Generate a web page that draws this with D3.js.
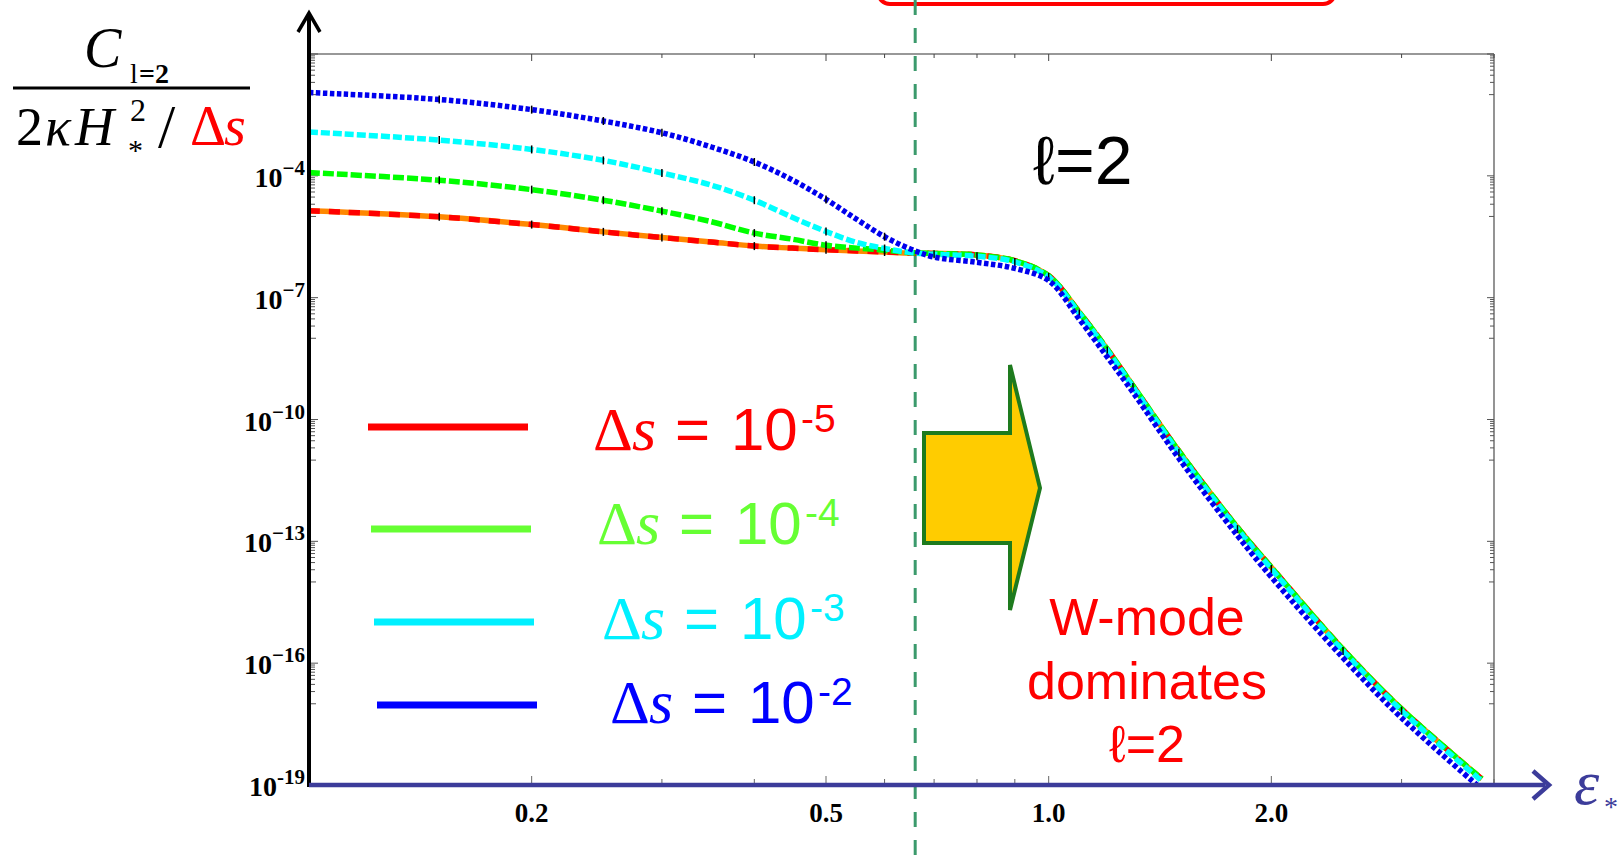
<!DOCTYPE html>
<html>
<head>
<meta charset="utf-8">
<script src="https://cdn.jsdelivr.net/npm/d3@7"></script>
<style>
    html, body { margin: 0; padding: 0; background: #fff; overflow: hidden; }
    svg { display: block; }
</style>
</head>
<body>
<svg id="chart" width="1623" height="862"></svg>
<script>
// epsilon_* sample points (x axis, log scale)
const epsVals = [0.1, 0.15, 0.2, 0.25, 0.3, 0.35, 0.4, 0.45, 0.5, 0.55, 0.6, 0.65, 0.7,
                 0.8, 0.9, 1.0, 1.1, 1.2, 1.3, 1.5, 1.8, 2.0, 2.5, 3.0, 3.85];

// log10 of C_l=2 / (2 kappa H*^2 / ds)
const logDs5 = [-4.86, -5.01, -5.20, -5.38, -5.52, -5.63, -5.73, -5.78, -5.82, -5.85, -5.875, -5.90, -5.91,
                -5.95, -6.09, -6.46, -7.36, -8.27, -9.17, -10.78, -12.66, -13.64, -15.66, -17.13, -18.85];
const logDs4 = [-3.92, -4.11, -4.34, -4.60, -4.87, -5.13, -5.41, -5.56, -5.71, -5.78, -5.83, -5.89, -5.91,
                -5.95, -6.09, -6.46, -7.36, -8.27, -9.17, -10.78, -12.66, -13.64, -15.66, -17.13, -18.85];
const logDs3 = [-2.92, -3.12, -3.35, -3.62, -3.93, -4.23, -4.60, -5.02, -5.37, -5.64, -5.79, -5.89, -5.93,
                -5.98, -6.12, -6.49, -7.39, -8.30, -9.20, -10.82, -12.70, -13.68, -15.70, -17.17, -18.90];
const logDs2 = [-1.95, -2.12, -2.37, -2.65, -2.94, -3.29, -3.66, -4.10, -4.58, -5.07, -5.50, -5.80, -6.00,
                -6.13, -6.28, -6.58, -7.53, -8.46, -9.33, -10.96, -12.86, -13.88, -15.87, -17.35, -19.10];

// legend exponents (Δs = 10^k)
const legendExps = ['-5', '-4', '-3', '-2'];

// axis ticks
const xMajorTicks = [0.2, 0.5, 1.0, 2.0];
const xMinorTicks = [0.3, 0.4, 0.6, 0.7, 0.8, 0.9, 3, 4];
const yMajorExps = [-1, -4, -7, -10, -13, -16, -19];
const yLabelExps = ['−4', '−7', '−10', '−13', '−16', '-19'];

// small black marks sitting on the curves
const meshEps = [0.15, 0.2, 0.25, 0.3, 0.4, 0.5, 0.6, 0.7, 0.8, 0.9, 1.0, 1.1, 1.2, 1.3, 1.5, 1.8, 2.0, 2.5, 3.0];

// position of the vertical dashed line
const crossEps = 0.66;

// Configurazione
const plot = { left: 309, right: 1494, top: 54, bottom: 785 };
const serif = "'Liberation Serif', 'Times New Roman', serif";
const sans = "'Liberation Sans', Arial, 'DejaVu Sans', sans-serif";
const navy = '#3c3c9a';

const styles = [
    { vals: logDs5, color: '#ff0000', under: '#ff8800', dash: '11,9', width: 5.5, legend: '#ff0000' },
    { vals: logDs4, color: '#00ff00', dash: '11,3', width: 5.5, legend: '#66ff33' },
    { vals: logDs3, color: '#00ffff', dash: '9,3', width: 5.5, legend: '#00f0ff' },
    { vals: logDs2, color: '#0000ee', dash: '4.5,2.5', width: 5.5, legend: '#0000ff' }
];

const svg = d3.select('#chart');

const x = d3.scaleLog().domain([0.1, 4]).range([plot.left, plot.right]);
const y = d3.scaleLog().domain([1e-19, 1e-1]).range([plot.bottom, plot.top]);

// red box cut by the top edge
svg.append('rect')
    .attr('x', 878).attr('y', -30)
    .attr('width', 457).attr('height', 34)
    .attr('rx', 12)
    .attr('fill', '#fff')
    .attr('stroke', '#ff0000')
    .attr('stroke-width', 4);

// frame: top and right
svg.append('line')
    .attr('x1', plot.left).attr('x2', plot.right)
    .attr('y1', plot.top).attr('y2', plot.top)
    .attr('stroke', '#333').attr('stroke-width', 1.2);
svg.append('line')
    .attr('x1', plot.right).attr('x2', plot.right)
    .attr('y1', plot.top).attr('y2', plot.bottom)
    .attr('stroke', '#888').attr('stroke-width', 1.8);

// x ticks (top and bottom, pointing inward)
const ticksG = svg.append('g');
function xTicks(vals, len) {
    vals.forEach(v => {
        ticksG.append('line')
            .attr('x1', x(v)).attr('x2', x(v))
            .attr('y1', plot.top).attr('y2', plot.top + len)
            .attr('stroke', '#444').attr('stroke-width', 1);
        ticksG.append('line')
            .attr('x1', x(v)).attr('x2', x(v))
            .attr('y1', plot.bottom - 2).attr('y2', plot.bottom - 2 - len)
            .attr('stroke', '#666').attr('stroke-width', 1);
    });
}
xTicks(xMajorTicks, 7);
xTicks(xMinorTicks, 4);

// y ticks (left and right, inward), minor cluster below each labelled decade
yMajorExps.forEach(e => {
    const vals = [{ v: Math.pow(10, e), len: 7 }];
    if (e > -19) {
        vals.push({ v: Math.pow(10, e - 1), len: 5 });
        for (let k = 2; k <= 9; k++) vals.push({ v: k * Math.pow(10, e - 1), len: 4 });
    }
    vals.forEach(t => {
        ticksG.append('line')
            .attr('x1', plot.right).attr('x2', plot.right - t.len)
            .attr('y1', y(t.v)).attr('y2', y(t.v))
            .attr('stroke', '#555').attr('stroke-width', 1);
        ticksG.append('line')
            .attr('x1', plot.left + 2).attr('x2', plot.left + 2 + t.len)
            .attr('y1', y(t.v)).attr('y2', y(t.v))
            .attr('stroke', '#555').attr('stroke-width', 1);
    });
});

// vertical dashed line
svg.append('line')
    .attr('x1', x(crossEps)).attr('x2', x(crossEps))
    .attr('y1', 0).attr('y2', 862)
    .attr('stroke', '#3b9a6c')
    .attr('stroke-width', 3)
    .attr('stroke-dasharray', '15,13');

// clip for the curves
svg.append('clipPath').attr('id', 'plot-clip')
    .append('rect')
    .attr('x', plot.left).attr('y', plot.top)
    .attr('width', plot.right - plot.left).attr('height', plot.bottom - plot.top + 2);

const line = d3.line()
    .x(d => x(d[0]))
    .y(d => y(Math.pow(10, d[1])))
    .curve(d3.curveCatmullRom.alpha(0.5));

const curvesG = svg.append('g').attr('clip-path', 'url(#plot-clip)');

styles.forEach((s, i) => {
    const pts = epsVals.map((e, j) => [e, s.vals[j]]);
    if (s.under) {
        curvesG.append('path')
            .attr('d', line(pts))
            .attr('fill', 'none')
            .attr('stroke', s.under)
            .attr('stroke-width', s.width);
    }
    curvesG.append('path')
        .attr('d', line(pts))
        .attr('fill', 'none')
        .attr('stroke', s.color)
        .attr('stroke-width', s.width)
        .attr('stroke-dasharray', s.dash);

    // mesh marks: all curves on the left, only the merged band on the right
    meshEps.forEach(e => {
        const j = epsVals.indexOf(e);
        if (j < 0) return;
        if (e >= 0.7 && i !== 2) return;
        const py = y(Math.pow(10, s.vals[j]));
        curvesG.append('line')
            .attr('x1', x(e)).attr('x2', x(e))
            .attr('y1', py - 4).attr('y2', py + 4)
            .attr('stroke', '#000').attr('stroke-width', 1.5);
    });
});

// y axis with arrow
svg.append('line')
    .attr('x1', plot.left).attr('x2', plot.left)
    .attr('y1', plot.bottom + 2).attr('y2', 15)
    .attr('stroke', '#000').attr('stroke-width', 4);
svg.append('polyline')
    .attr('points', `${plot.left - 11},32 ${plot.left},13 ${plot.left + 11},32`)
    .attr('fill', 'none').attr('stroke', '#000').attr('stroke-width', 3.5);

// x axis with arrow
svg.append('line')
    .attr('x1', plot.left).attr('x2', 1545)
    .attr('y1', plot.bottom).attr('y2', plot.bottom)
    .attr('stroke', navy).attr('stroke-width', 4.5);
svg.append('polyline')
    .attr('points', `1533,771 1549,${plot.bottom} 1533,799`)
    .attr('fill', 'none').attr('stroke', navy).attr('stroke-width', 4.5);

// x tick labels
xMajorTicks.forEach(v => {
    svg.append('text')
        .attr('x', x(v)).attr('y', 822)
        .attr('text-anchor', 'middle')
        .attr('font-family', serif).attr('font-weight', 'bold').attr('font-size', 27)
        .text(d3.format('.1f')(v));
});

// y tick labels
yMajorExps.slice(1).forEach((e, i) => {
    const t = svg.append('text')
        .attr('x', 305).attr('y', y(Math.pow(10, e)) + 11)
        .attr('text-anchor', 'end')
        .attr('font-family', serif).attr('font-weight', 'bold');
    t.append('tspan').attr('font-size', 28).text('10');
    t.append('tspan').attr('font-size', 21).attr('dy', -12).text(yLabelExps[i]);
});

// x axis label
svg.append('text')
    .attr('x', 1574).attr('y', 804)
    .attr('font-family', serif).attr('font-style', 'italic').attr('font-size', 64)
    .attr('fill', navy).text('ε');
svg.append('text')
    .attr('x', 1604).attr('y', 816)
    .attr('font-family', serif).attr('font-size', 28)
    .attr('fill', navy).text('*');

// y axis label as a fraction
const num = svg.append('text').attr('font-family', serif);
num.append('tspan').attr('x', 84).attr('y', 67)
    .attr('font-style', 'italic').attr('font-size', 56).text('C');
num.append('tspan').attr('x', 130).attr('y', 83)
    .attr('font-size', 28).text('l');
num.append('tspan').attr('x', 139).attr('y', 83)
    .attr('font-size', 28).attr('font-weight', 'bold').text('=2');
svg.append('line')
    .attr('x1', 13).attr('x2', 250).attr('y1', 88).attr('y2', 88)
    .attr('stroke', '#000').attr('stroke-width', 3);
const den = svg.append('text').attr('font-family', serif).attr('font-size', 54);
den.append('tspan').attr('x', 16).attr('y', 145).text('2');
den.append('tspan').attr('x', 45).attr('y', 145).attr('font-style', 'italic').text('κ');
den.append('tspan').attr('x', 75).attr('y', 145).attr('font-style', 'italic').text('H');
den.append('tspan').attr('x', 130).attr('y', 121).attr('font-size', 32).text('2');
den.append('tspan').attr('x', 128).attr('y', 160).attr('font-size', 30).text('*');
den.append('tspan').attr('x', 158).attr('y', 147).attr('font-size', 62).text('/');
den.append('tspan').attr('x', 190).attr('y', 145).attr('font-size', 56).attr('fill', '#ff0000').text('Δ');
den.append('tspan').attr('x', 224).attr('y', 145).attr('font-size', 56).attr('fill', '#ff0000')
    .attr('font-style', 'italic').text('s');

// ℓ=2 title
svg.append('text')
    .attr('x', 1033).attr('y', 184)
    .attr('font-family', sans).attr('font-size', 68)
    .text('ℓ=2');

// legend
const legendPos = [
    { x1: 368, y: 427, tx: 593, ty: 450 },
    { x1: 371, y: 529, tx: 597, ty: 544 },
    { x1: 374, y: 622, tx: 602, ty: 639 },
    { x1: 377, y: 705, tx: 610, ty: 723 }
];
styles.forEach((s, i) => {
    const p = legendPos[i];
    svg.append('line')
        .attr('x1', p.x1).attr('x2', p.x1 + 160)
        .attr('y1', p.y).attr('y2', p.y)
        .attr('stroke', s.legend).attr('stroke-width', 7);
    const t = svg.append('text').attr('fill', s.legend).attr('y', p.ty);
    t.append('tspan').attr('x', p.tx).attr('font-family', serif).attr('font-size', 62).text('Δ');
    t.append('tspan').attr('x', p.tx + 39).attr('font-family', serif).attr('font-style', 'italic')
        .attr('font-size', 62).text('s');
    t.append('tspan').attr('x', p.tx + 82).attr('font-family', sans).attr('font-size', 60).text('=');
    t.append('tspan').attr('x', p.tx + 138).attr('font-family', sans).attr('font-size', 60).text('10');
    t.append('tspan').attr('x', p.tx + 208).attr('dy', -18).attr('font-family', sans)
        .attr('font-size', 39).text(legendExps[i]);
});

// block arrow
svg.append('polygon')
    .attr('points', '924,433 1010,433 1010,365 1040,488 1010,610 1010,543 924,543')
    .attr('fill', '#ffcc00')
    .attr('stroke', '#1e7b1e')
    .attr('stroke-width', 4);

// annotation
['W-mode', 'dominates', 'ℓ=2'].forEach((s, i) => {
    svg.append('text')
        .attr('x', 1147).attr('y', 635 + i * 63.5)
        .attr('text-anchor', 'middle')
        .attr('font-family', sans).attr('font-size', 52)
        .attr('fill', '#ff0000')
        .text(s);
});
</script>
</body>
</html>
